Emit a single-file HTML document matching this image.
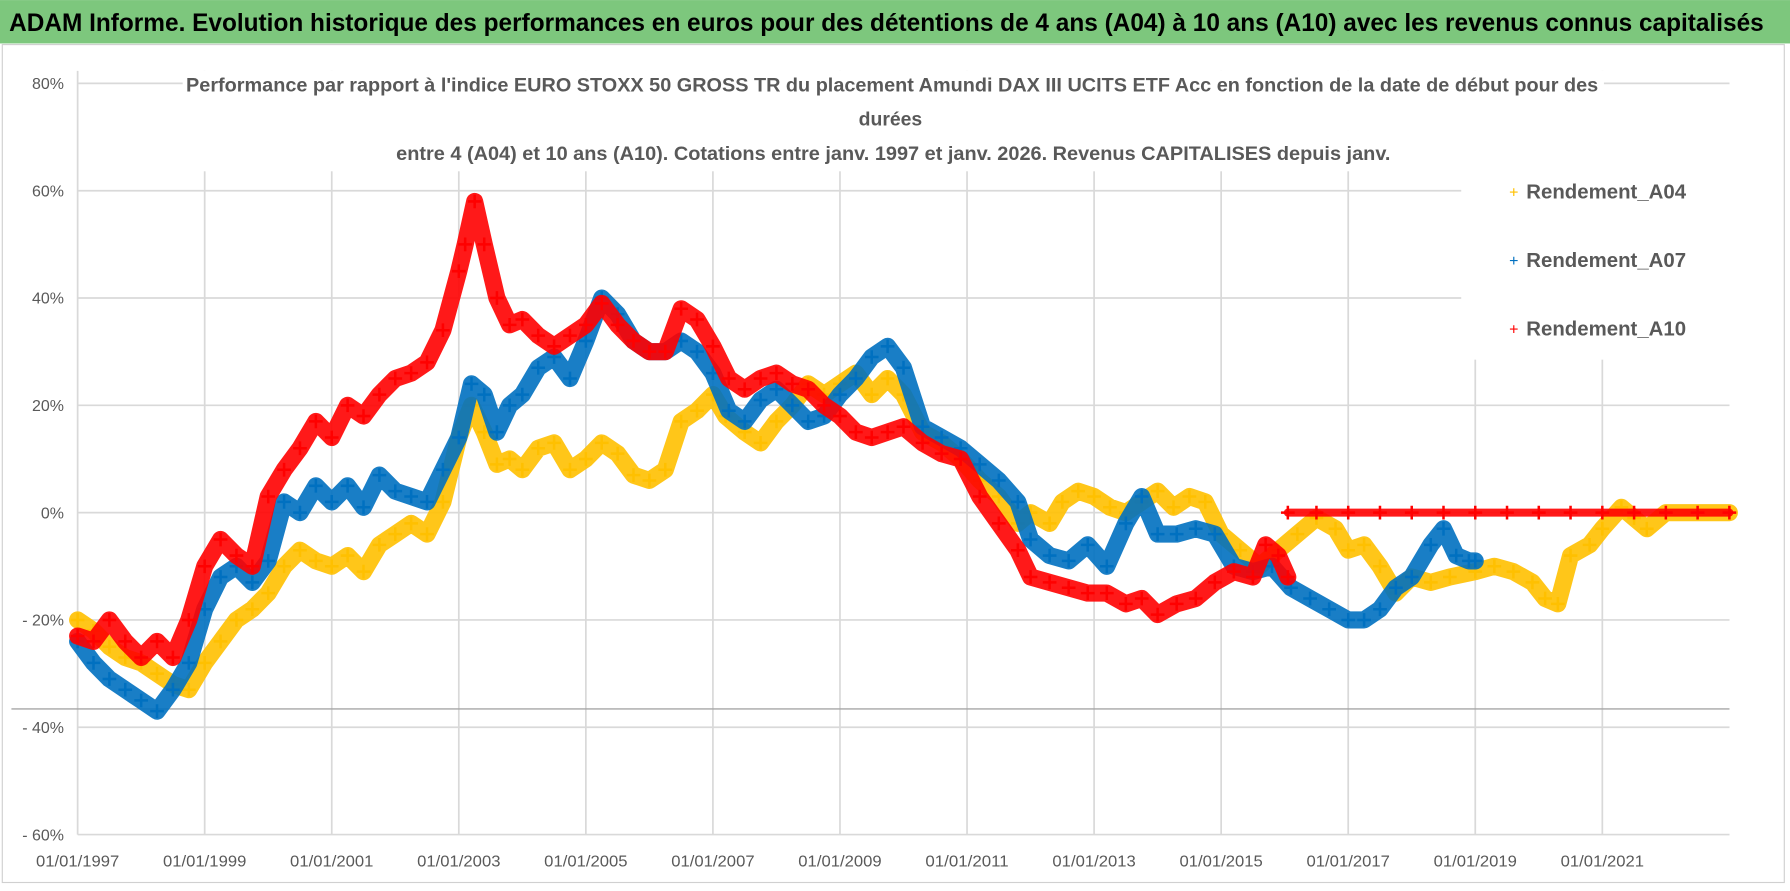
<!DOCTYPE html>
<html><head><meta charset="utf-8">
<style>
html,body{margin:0;padding:0;background:#fff;}
body{width:1790px;height:886px;overflow:hidden;}
svg text{font-family:"Liberation Sans",sans-serif;}
</style></head>
<body>
<svg id="chart" width="1790" height="886" viewBox="0 0 1568 776" xmlns="http://www.w3.org/2000/svg">
<rect x="0" y="0" width="1568" height="776" fill="#fff"/>
<rect x="0" y="0" width="1568" height="38" fill="#7dc77d"/>
<text x="8" y="27" font-size="22" font-weight="bold" fill="#000" textLength="1537" lengthAdjust="spacingAndGlyphs">ADAM Informe. Evolution historique des performances en euros pour des détentions de 4 ans (A04) à 10 ans (A10) avec les revenus connus capitalisés</text>
<rect x="2" y="39" width="1561" height="734" fill="none" stroke="#d0d0d0" stroke-width="1"/>
<g id="grid"></g>
<rect x="160" y="62" width="1245" height="88" fill="#fff"/>
<text x="163" y="80" font-size="17" font-weight="bold" fill="#595959" textLength="1237" lengthAdjust="spacingAndGlyphs">Performance par rapport à l'indice EURO STOXX 50 GROSS TR  du placement Amundi DAX III UCITS ETF Acc en fonction de la date de début pour des</text>
<text x="780" y="110" font-size="17" font-weight="bold" fill="#595959" text-anchor="middle">durées</text>
<text x="347" y="140" font-size="17" font-weight="bold" fill="#595959" textLength="871" lengthAdjust="spacingAndGlyphs">entre 4 (A04) et 10 ans (A10).  Cotations entre janv. 1997 et janv. 2026. Revenus CAPITALISES  depuis janv.</text>
<g id="series"></g>
<g>
<rect x="1280" y="140" width="235" height="175" fill="#fff"/>
<text x="1326" y="173" font-size="14" fill="#ffc000" text-anchor="middle">+</text>
<text x="1337" y="174" font-size="18" font-weight="bold" fill="#595959" textLength="140" lengthAdjust="spacingAndGlyphs">Rendement_A04</text>
<text x="1326" y="233" font-size="14" fill="#0070c0" text-anchor="middle">+</text>
<text x="1337" y="234" font-size="18" font-weight="bold" fill="#595959" textLength="140" lengthAdjust="spacingAndGlyphs">Rendement_A07</text>
<text x="1326" y="293" font-size="14" fill="#ff0000" text-anchor="middle">+</text>
<text x="1337" y="294" font-size="18" font-weight="bold" fill="#595959" textLength="140" lengthAdjust="spacingAndGlyphs">Rendement_A10</text>
</g>
</svg>
<script>
const yTicks = [80, 60, 40, 20, 0, -20, -40, -60];
const yTickLabels = ["80%", "60%", "40%", "20%", "0%", "- 20%", "- 40%", "- 60%"];
const xTicks = [1997, 1999, 2001, 2003, 2005, 2007, 2009, 2011, 2013, 2015, 2017, 2019, 2021];
const xTickLabels = ["01/01/1997","01/01/1999","01/01/2001","01/01/2003","01/01/2005","01/01/2007","01/01/2009","01/01/2011","01/01/2013","01/01/2015","01/01/2017","01/01/2019","01/01/2021"];

const timeA04 = [1997.0,1997.25,1997.5,1997.75,1998.0,1998.25,1998.5,1998.75,1999.0,1999.25,1999.5,1999.75,2000.0,2000.25,2000.5,2000.75,2001.0,2001.25,2001.5,2001.75,2002.0,2002.25,2002.5,2002.75,2003.0,2003.2,2003.4,2003.6,2003.8,2004.0,2004.25,2004.5,2004.75,2005.0,2005.25,2005.5,2005.75,2006.0,2006.25,2006.5,2006.75,2007.0,2007.2,2007.5,2007.75,2008.0,2008.25,2008.5,2008.75,2009.0,2009.25,2009.5,2009.75,2010.0,2010.3,2010.6,2010.9,2011.2,2011.5,2011.8,2012.0,2012.3,2012.5,2012.75,2013.0,2013.25,2013.5,2013.75,2014.0,2014.25,2014.5,2014.75,2015.0,2015.3,2015.6,2015.9,2016.2,2016.5,2016.8,2017.0,2017.25,2017.5,2017.75,2018.0,2018.3,2018.6,2019.0,2019.3,2019.6,2019.9,2020.1,2020.3,2020.5,2020.8,2021.0,2021.3,2021.5,2021.7,2022.0,2022.5,2023.0];
const valuesA04 = [-20,-22,-25,-27,-28,-30,-32,-33,-28,-24,-20,-18,-15,-10,-7,-9,-10,-8,-11,-6,-4,-2,-4,2,14,20,15,9,10,8,12,13,8,10,13,11,7,6,8,17,19,22,18,15,13,17,20,24,22,24,26,22,25,22,15,13,10,6,3,-2,0,-2,2,4,3,1,0,2,4,1,3,2,-4,-7,-10,-7,-4,-1,-3,-7,-6,-10,-15,-12,-13,-12,-11,-10,-11,-13,-16,-17,-8,-6,-3,1,-1,-3,0,0,0];

const timeA07 = [1997.0,1997.25,1997.5,1997.75,1998.0,1998.25,1998.5,1998.75,1999.0,1999.25,1999.5,1999.75,2000.0,2000.25,2000.5,2000.75,2001.0,2001.25,2001.5,2001.75,2002.0,2002.25,2002.5,2002.75,2003.0,2003.2,2003.4,2003.6,2003.8,2004.0,2004.25,2004.5,2004.75,2005.0,2005.25,2005.5,2005.75,2006.0,2006.25,2006.5,2006.75,2007.0,2007.25,2007.5,2007.75,2008.0,2008.25,2008.5,2008.75,2009.0,2009.25,2009.5,2009.75,2010.0,2010.3,2010.6,2010.9,2011.2,2011.5,2011.8,2012.0,2012.3,2012.6,2012.9,2013.2,2013.5,2013.75,2014.0,2014.3,2014.6,2014.9,2015.2,2015.5,2015.8,2016.1,2016.4,2016.7,2017.0,2017.25,2017.5,2017.75,2018.0,2018.3,2018.5,2018.7,2018.9,2019.0];
const valuesA07 = [-24,-28,-31,-33,-35,-37,-33,-28,-18,-12,-10,-13,-9,2,0,5,2,5,1,7,4,3,2,8,14,24,22,15,20,22,27,29,25,32,40,37,32,30,30,32,30,26,19,17,21,23,20,17,18,22,25,29,31,27,16,14,12,9,6,2,-5,-8,-9,-6,-10,-2,3,-4,-4,-3,-4,-10,-11,-10,-14,-16,-18,-20,-20,-18,-14,-12,-6,-3,-8,-9,-9];

const timeA10 = [1997.0,1997.25,1997.5,1997.75,1998.0,1998.25,1998.5,1998.75,1999.0,1999.25,1999.5,1999.75,2000.0,2000.25,2000.5,2000.75,2001.0,2001.25,2001.5,2001.75,2002.0,2002.25,2002.5,2002.75,2003.0,2003.1,2003.25,2003.4,2003.6,2003.8,2004.0,2004.25,2004.5,2004.75,2005.0,2005.25,2005.5,2005.75,2006.0,2006.25,2006.5,2006.75,2007.0,2007.25,2007.5,2007.75,2008.0,2008.25,2008.5,2008.75,2009.0,2009.25,2009.5,2009.75,2010.0,2010.3,2010.6,2010.9,2011.2,2011.5,2011.8,2012.0,2012.3,2012.6,2012.9,2013.2,2013.5,2013.75,2014.0,2014.3,2014.6,2014.9,2015.2,2015.5,2015.7,2015.9,2016.05];
const valuesA10 = [-23,-24,-20,-24,-27,-24,-27,-20,-10,-5,-8,-10,3,8,12,17,14,20,18,22,25,26,28,34,45,50,58,50,40,35,36,33,31,33,35,39,35,32,30,30,38,36,31,25,23,25,26,24,23,20,18,15,14,15,16,13,11,10,3,-2,-7,-12,-13,-14,-15,-15,-17,-16,-19,-17,-16,-13,-11,-12,-6,-8,-12];
const timeA10Flat = [2016.05,2016.5,2017.0,2017.5,2018.0,2018.5,2019.0,2019.5,2020.0,2020.5,2021.0,2021.5,2022.0,2022.5,2023.0];
const valuesA10Flat = [0,0,0,0,0,0,0,0,0,0,0,0,0,0,0];

const NS = "http://www.w3.org/2000/svg";
const X0 = 68, PXYEAR = 55.65, Y0 = 449, PXPCT = 4.7, XR = 1515;
function xScale(t){ return X0 + (t - 1997) * PXYEAR; }
function yScale(v){ return Y0 - v * PXPCT; }

const grid = document.getElementById('grid');
yTicks.forEach((v, i) => {
  const l = document.createElementNS(NS, 'line');
  
  
  l.setAttribute('x1', X0); l.setAttribute('x2', XR);
  l.setAttribute('y1', yScale(v)); l.setAttribute('y2', yScale(v));
  l.setAttribute('stroke', '#d9d9d9'); l.setAttribute('stroke-width', '1.5');
  grid.appendChild(l);
  const t = document.createElementNS(NS, 'text');
  
  
  t.setAttribute('x', 56); t.setAttribute('y', yScale(v) + 5);
  t.setAttribute('font-size', '14'); t.setAttribute('fill', '#595959');
  t.setAttribute('text-anchor', 'end');
  t.textContent = yTickLabels[i];
  grid.appendChild(t);
});
xTicks.forEach((yr, i) => {
  const l = document.createElementNS(NS, 'line');
  
  
  l.setAttribute('x1', xScale(yr)); l.setAttribute('x2', xScale(yr));
  l.setAttribute('y1', 62); l.setAttribute('y2', 731);
  l.setAttribute('stroke', '#d9d9d9'); l.setAttribute('stroke-width', '1.5');
  grid.appendChild(l);
  const t = document.createElementNS(NS, 'text');
  
  
  t.setAttribute('x', xScale(yr)); t.setAttribute('y', 759);
  t.setAttribute('font-size', '14'); t.setAttribute('fill', '#595959');
  t.setAttribute('text-anchor', 'middle');
  t.setAttribute('textLength', '73'); t.setAttribute('lengthAdjust', 'spacingAndGlyphs');
  t.textContent = xTickLabels[i];
  grid.appendChild(t);
});
const ref = document.createElementNS(NS, 'line');


ref.setAttribute('x1', 10); ref.setAttribute('x2', XR);
ref.setAttribute('y1', 621); ref.setAttribute('y2', 621);
ref.setAttribute('stroke', '#a6a6a6'); ref.setAttribute('stroke-width', '1.2');
grid.appendChild(ref);

const seriesG = document.getElementById('series');
function drawSeries(name, times, vals, color, band) {
  const g = document.createElementNS(NS, 'g');
  
  
  const pts = times.map((t, i) => xScale(t).toFixed(1) + ',' + yScale(vals[i]).toFixed(1)).join(' ');
  const pl = document.createElementNS(NS, 'polyline');
  
  
  pl.setAttribute('points', pts);
  pl.setAttribute('fill', 'none'); pl.setAttribute('stroke', color);
  pl.setAttribute('stroke-width', band); pl.setAttribute('stroke-linejoin', 'round');
  pl.setAttribute('stroke-linecap', 'round'); pl.setAttribute('opacity', '0.9');
  g.appendChild(pl);
  times.forEach((t, i) => {
    const x = xScale(t), y = yScale(vals[i]);
    const p = document.createElementNS(NS, 'path');
    
    
    p.setAttribute('d', `M${x-6},${y}H${x+6}M${x},${y-6}V${y+6}`);
    p.setAttribute('stroke', color); p.setAttribute('stroke-width', '2.2');
    g.appendChild(p);
  });
  seriesG.appendChild(g);
}
drawSeries('series-a04', timeA04, valuesA04, '#ffc000', 15);
drawSeries('series-a07', timeA07, valuesA07, '#0070c0', 15);
drawSeries('series-a10', timeA10, valuesA10, '#ff0000', 15);
drawSeries('series-a10-flat', timeA10Flat, valuesA10Flat, '#ff0000', 7);
</script>
</body></html>
